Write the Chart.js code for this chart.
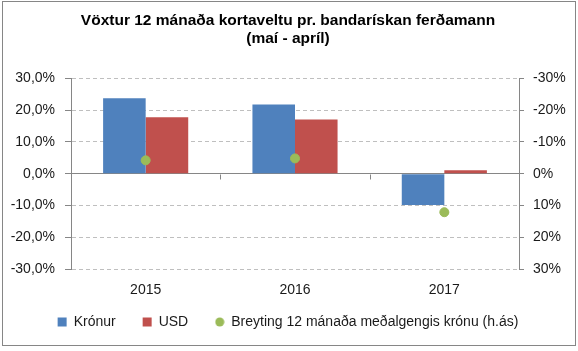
<!DOCTYPE html>
<html>
<head>
<meta charset="utf-8">
<script src="https://cdn.jsdelivr.net/npm/chart.js@4/dist/chart.umd.min.js"></script>
<style>
  body { margin: 0; background: #fff; }
  #wrap { width: 578px; height: 351px; position: relative; }
</style>
</head>
<body>
<div id="wrap"><canvas id="chart" width="578" height="351"></canvas></div>
<script>
// gögn lesin af myndinni
const ar = ['2015', '2016', '2017'];
const kronur = [23.7, 21.7, -9.8];
const usd = [17.7, 17.0, 1.1];
const gengi = [-4.2, -4.8, 12.1]; // hægri ás, öfugur
const asTicks = [-30, -20, -10, 0, 10, 20, 30];

const FONT = "'Liberation Sans', Arial, sans-serif";
const TXT = '#1a1a1a';
const GRAR = '#868686';
const GRAENN = '#9BBB59';

// lítill hringur fyrir skýringuna (sama stærð og ferningarnir)
const hringur = document.createElement('canvas');
hringur.width = 10; hringur.height = 10;
const hc = hringur.getContext('2d');
hc.fillStyle = GRAENN;
hc.beginPath();
hc.arc(5, 5, 4.5, 0, Math.PI * 2);
hc.fill();

// rammi utan um myndina + litlu strikin á núll-línunni milli flokka
const ramma = {
    id: 'ramma',
    afterLayout(chart) {
        // skýringar ofar, nær ártölunum
        chart.legend.top -= 24;
        chart.legend.bottom -= 24;
    },
    beforeDraw(chart) {
        const ctx = chart.ctx;
        ctx.save();
        ctx.fillStyle = '#fff';
        ctx.fillRect(0, 0, chart.width, chart.height);
        ctx.strokeStyle = GRAR;
        ctx.lineWidth = 1;
        ctx.strokeRect(2.5, 1.5, 573, 344);
        ctx.restore();
    },
    afterDatasetsDraw(chart) {
        const ctx = chart.ctx;
        const x = chart.scales.x, y = chart.scales.y;
        const y0 = Math.round(y.getPixelForValue(0)) + 0.5;
        ctx.save();
        ctx.strokeStyle = GRAR;
        ctx.lineWidth = 1;
        ctx.beginPath();
        for (let i = 1; i < ar.length; i++) {
            const xp = Math.round((x.getPixelForValue(i - 1) + x.getPixelForValue(i)) / 2) + 0.5;
            ctx.moveTo(xp, y0);
            ctx.lineTo(xp, y0 + 5);
        }
        ctx.stroke();
        ctx.restore();
    }
};

new Chart(document.getElementById('chart'), {
    data: {
        labels: ar,
        datasets: [
            { type: 'bar', label: 'Krónur', data: kronur, backgroundColor: '#4F81BD', yAxisID: 'y', pointStyle: 'rect', order: 2 },
            { type: 'bar', label: 'USD', data: usd, backgroundColor: '#C0504D', yAxisID: 'y', pointStyle: 'rect', order: 2 },
            { type: 'scatter', label: 'Breyting 12 mánaða meðalgengis krónu (h.ás)', data: gengi, yAxisID: 'y2',
              backgroundColor: GRAENN, borderColor: GRAENN, pointRadius: 4.5, pointHoverRadius: 4.5,
              pointStyle: 'circle', showLine: false, order: 1 }
        ]
    },
    options: {
        responsive: false,
        animation: false,
        layout: { padding: { left: 4, right: 6, top: 2, bottom: -12 } },
        datasets: { bar: { barPercentage: 1, categoryPercentage: 0.57 } },
        plugins: {
            tooltip: { enabled: false },
            title: {
                display: true,
                text: ['Vöxtur 12 mánaða kortaveltu pr. bandarískan ferðamann', '(maí - apríl)'],
                color: '#000',
                font: { family: FONT, size: 15.5, weight: 'bold' },
                lineHeight: 1.25,
                padding: { top: 9, bottom: 30 }
            },
            legend: {
                position: 'bottom',
                labels: {
                    usePointStyle: true,
                    boxWidth: 9,
                    boxHeight: 9,
                    padding: 27,
                    color: TXT,
                    font: { family: FONT, size: 14 },
                    sort: (a, b) => a.datasetIndex - b.datasetIndex,
                    generateLabels: chart => {
                        const items = Chart.defaults.plugins.legend.labels.generateLabels(chart);
                        items.forEach(it => { if (it.datasetIndex === 2) it.pointStyle = hringur; });
                        return items;
                    }
                }
            }
        },
        scales: {
            x: {
                type: 'category',
                offset: true,
                grid: { display: false, drawTicks: false },
                border: { display: false },
                ticks: { color: TXT, font: { family: FONT, size: 14 }, padding: 13 }
            },
            y: {
                position: 'left',
                min: -30, max: 30,
                afterBuildTicks: s => { s.ticks = asTicks.map(v => ({ value: v })); },
                afterFit: s => { s.width = 67; },
                grid: {
                    color: c => c.tick && c.tick.value === 0 ? GRAR : '#BFBFBF',
                    lineWidth: 1,
                    tickLength: 6,
                    tickColor: GRAR,
                    tickBorderDash: []
                },
                border: {
                    display: true,
                    color: GRAR,
                    dash: c => (c.tick && c.tick.value !== 0) ? [4, 3] : []
                },
                ticks: {
                    color: TXT,
                    font: { family: FONT, size: 14 },
                    padding: 10,
                    callback: v => v.toFixed(1).replace('.', ',') + '%'
                }
            },
            y2: {
                position: 'right',
                reverse: true,
                min: -30, max: 30,
                afterBuildTicks: s => { s.ticks = asTicks.map(v => ({ value: v })); },
                afterFit: s => { s.width = 53; },
                grid: { drawOnChartArea: false, tickLength: 5, tickColor: GRAR },
                border: { display: true, color: GRAR },
                ticks: {
                    color: TXT,
                    font: { family: FONT, size: 14 },
                    padding: 9,
                    callback: v => v + '%'
                }
            }
        }
    },
    plugins: [ramma]
});
</script>
</body>
</html>
